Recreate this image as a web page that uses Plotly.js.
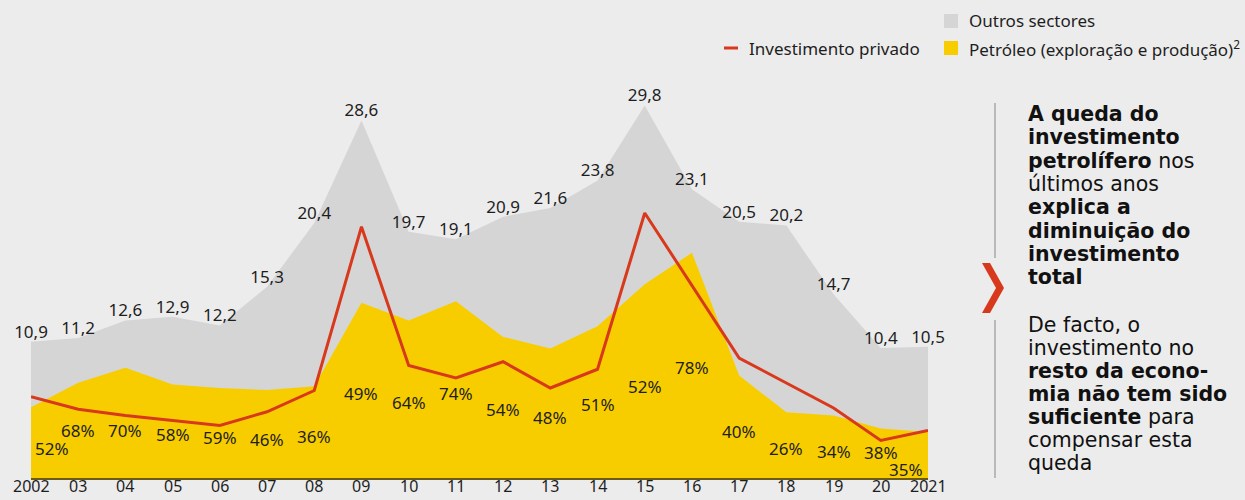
<!DOCTYPE html>
<html><head><meta charset="utf-8">
<script src="https://cdn.plot.ly/plotly-3.0.1.min.js"></script>
<style>html,body{margin:0;padding:0;background:#ececec;}#chart{width:1245px;height:500px;}</style>
</head><body><div id="chart"></div>
<script>
// ---------- DATA ----------
const years = [2002,2003,2004,2005,2006,2007,2008,2009,2010,2011,2012,2013,2014,2015,2016,2017,2018,2019,2020,2021];
const tickLabels = ["2002","03","04","05","06","07","08","09","10","11","12","13","14","15","16","17","18","19","20","2021"];
const totalInvestment = [10.9,11.2,12.6,12.9,12.2,15.3,20.4,28.6,19.7,19.1,20.9,21.6,23.8,29.8,23.1,20.5,20.2,14.7,10.4,10.5];
const oilSharePct = [52,68,70,58,59,46,36,49,64,74,54,48,51,52,78,40,26,34,38,35];
const privateInvestment = [6.5,5.5,5.0,4.6,4.2,5.3,7.0,20.1,9.0,8.0,9.3,7.2,8.7,21.2,15.4,9.6,7.6,5.6,3.0,3.8];
const seriesNames = ["Outros sectores","Petróleo (exploração e produção)<sup>2</sup>","Investimento privado"];
const panelPara1 = ["<b>A queda do</b>","<b>investimento</b>","<b>petrolífero</b> nos","últimos anos","<b>explica a</b>","<b>diminuição do</b>","<b>investimento</b>","<b>total</b>"];
const panelPara2 = ["De facto, o","investimento no","<b>resto da econo-</b>","<b>mia não tem sido</b>","<b>suficiente</b> para","compensar esta","queda"];

// ---------- LAYOUT HELPERS ----------
const W=1245, H=500, ML=31, MR=317, MT=80, MB=22;
const PW=W-ML-MR, PH=H-MT-MB;
const pxX = p => (p-ML)/PW;
const pxY = p => (H-MB-p)/PH;
const pxPerUnit = 12.5;
const pctLabelHeights = [30,48,48,44,41,39,42,85,76,85,69,61,74,92,111,47,30,27,26,9]; // px above baseline
const pctLabelXShift = {0:21, 19:-22};

const FONT = "Noto Sans, sans-serif";
const TXT = "#1e1e1e";
const GREY = "#d5d5d5", YELLOW = "#f8cd00", RED = "#d8391c", BG = "#ececec";

const oilValues = totalInvestment.map((t,i)=> t*oilSharePct[i]/100);
const fmt = v => v.toFixed(1).replace('.', ',');

const traces = [
  {x:years, y:totalInvestment, type:'scatter', mode:'lines', fill:'tozeroy', fillcolor:GREY,
   line:{width:0,color:GREY}, name:seriesNames[0], hoverinfo:'skip', showlegend:false},
  {x:years, y:oilValues, type:'scatter', mode:'lines', fill:'tozeroy', fillcolor:YELLOW,
   line:{width:0,color:YELLOW}, name:seriesNames[1], hoverinfo:'skip', showlegend:false},
  {x:years, y:privateInvestment, type:'scatter', mode:'lines', line:{width:3,color:RED},
   name:seriesNames[2], hoverinfo:'skip', showlegend:false},
  {x:years, y:totalInvestment, type:'scatter', mode:'text', text:totalInvestment.map(fmt),
   textposition:'top center', textfont:{family:FONT,size:17,color:TXT}, cliponaxis:false,
   hoverinfo:'skip', showlegend:false}
];

const annotations = [];
years.forEach((yr,i)=>{
  annotations.push({x:yr, y:0, xref:'x', yref:'y', text:oilSharePct[i]+'%', showarrow:false,
    yshift:pctLabelHeights[i], xshift:pctLabelXShift[i]||0, xanchor:'center', yanchor:'middle',
    font:{family:FONT,size:17,color:TXT}});
  // x-axis tick labels, kept fully inside the picture
  annotations.push({x:yr, xref:'x', yref:'paper', y:pxY(499), text:tickLabels[i], showarrow:false,
    xanchor:'center', yanchor:'bottom', font:{family:FONT,size:16,color:TXT}});
});
// legend texts
annotations.push({xref:'paper',yref:'paper',x:pxX(967),y:pxY(21),xanchor:'left',yanchor:'middle',showarrow:false,
  text:seriesNames[0],font:{family:FONT,size:17,color:TXT}});
annotations.push({xref:'paper',yref:'paper',x:pxX(967),y:pxY(48),xanchor:'left',yanchor:'middle',showarrow:false,
  text:seriesNames[1],font:{family:FONT,size:17,color:TXT}});
annotations.push({xref:'paper',yref:'paper',x:pxX(747),y:pxY(48),xanchor:'left',yanchor:'middle',showarrow:false,
  text:seriesNames[2],font:{family:FONT,size:17,color:TXT}});
// side panel
const PFONT = "DejaVu Sans, sans-serif";
panelPara1.forEach((t,i)=>annotations.push({xref:'paper',yref:'paper',x:pxX(1026),y:pxY(114+i*23.3),
  xanchor:'left',yanchor:'middle',showarrow:false,text:t,font:{family:PFONT,size:20.5,color:'#111'}}));
panelPara2.forEach((t,i)=>annotations.push({xref:'paper',yref:'paper',x:pxX(1026),y:pxY(325+i*23),
  xanchor:'left',yanchor:'middle',showarrow:false,text:t,font:{family:PFONT,size:20.5,color:'#111'}}));

const chev = [[982,263],[990,263],[1004,288],[990,313],[982,313],[996,288]];
const chevPath = 'M ' + chev.map(p=>pxX(p[0])+','+pxY(p[1])).join(' L ') + ' Z';

const shapes = [
  {type:'rect',xref:'paper',yref:'paper',x0:pxX(944),x1:pxX(958),y0:pxY(14),y1:pxY(28),fillcolor:GREY,line:{width:0}},
  {type:'rect',xref:'paper',yref:'paper',x0:pxX(944),x1:pxX(958),y0:pxY(41),y1:pxY(55),fillcolor:YELLOW,line:{width:0}},
  {type:'line',xref:'paper',yref:'paper',x0:pxX(724),x1:pxX(738),y0:pxY(48),y1:pxY(48),line:{color:RED,width:3}},
  {type:'line',xref:'paper',yref:'paper',x0:pxX(995),x1:pxX(995),y0:pxY(103),y1:pxY(258),line:{color:'#a8a8a8',width:1.5}},
  {type:'line',xref:'paper',yref:'paper',x0:pxX(995),x1:pxX(995),y0:pxY(320),y1:pxY(478),line:{color:'#a8a8a8',width:1.5}},
  {type:'path',xref:'paper',yref:'paper',path:chevPath,fillcolor:RED,line:{width:0}}
];

const layout = {
  width:W, height:H, margin:{l:ML,r:MR,t:MT,b:MB,pad:0},
  paper_bgcolor:BG, plot_bgcolor:BG, showlegend:false,
  xaxis:{range:[2002,2021], tickvals:years, showticklabels:false, showgrid:false, zeroline:false,
    showline:true, linecolor:'#6b5a14', linewidth:2, ticks:'', fixedrange:true},
  yaxis:{range:[0, PH/pxPerUnit], showgrid:false, zeroline:false, showticklabels:false, showline:false, fixedrange:true},
  annotations, shapes
};
Plotly.newPlot('chart', traces, layout, {displayModeBar:false, staticPlot:true});
</script></body></html>
